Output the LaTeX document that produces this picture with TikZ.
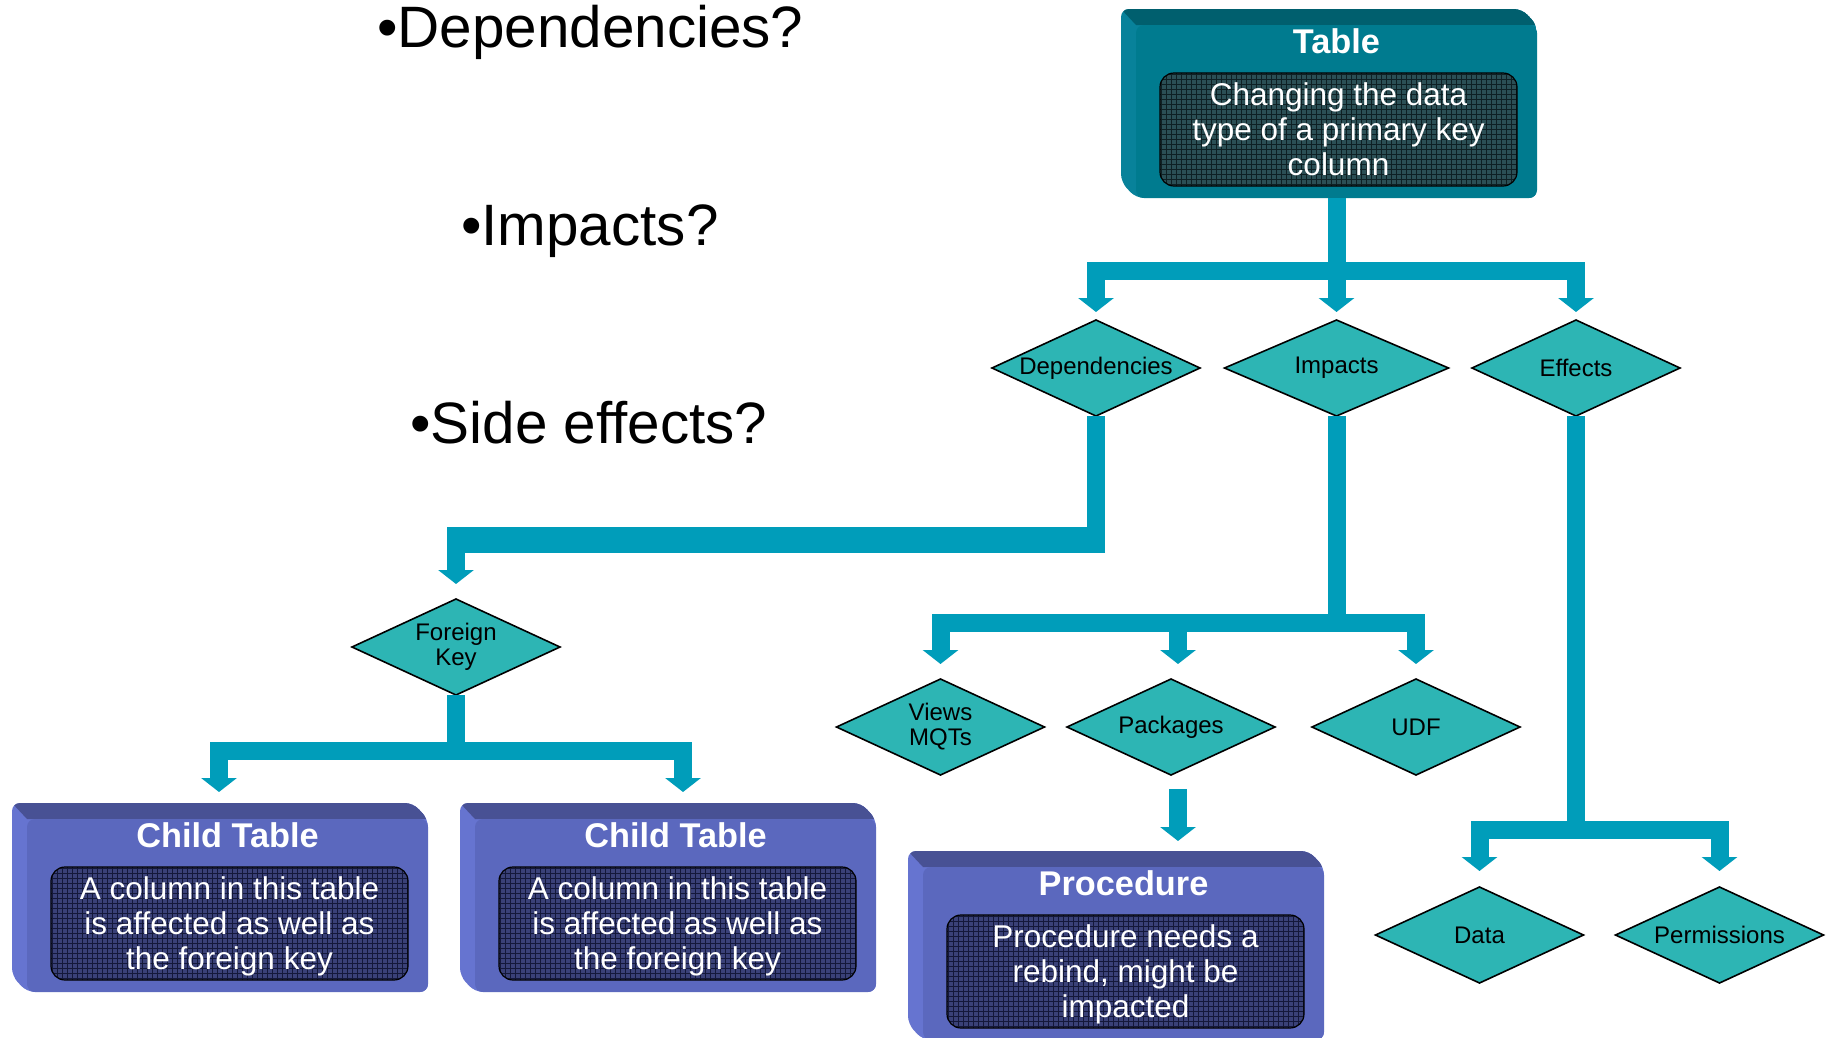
\documentclass[tikz,border=0pt]{standalone}
\usepackage{fontspec}
\setmainfont{Liberation Sans}
\usetikzlibrary{shapes.geometric,arrows.meta,calc}

\definecolor{connc}{HTML}{009DBA}
\definecolor{diac}{HTML}{2DB5B4}
\definecolor{tlfront}{HTML}{007B8F}
\definecolor{tltop}{HTML}{005F6E}
\definecolor{tlleft}{HTML}{08829A}
\definecolor{tlbase}{HTML}{2B4F55}
\definecolor{tlline}{HTML}{0E2024}
\definecolor{pufront}{HTML}{5B68BE}
\definecolor{putop}{HTML}{485194}
\definecolor{puleft}{HTML}{6674D0}
\definecolor{pubase}{HTML}{3A4178}
\definecolor{puline}{HTML}{14183A}

\tikzset{
  conn/.style={draw=connc, line width=18pt, line join=miter, -{Triangle[width=35pt,length=14pt]}},
  barthick/.style={draw=connc, line width=26pt},
  dia/.style={shape=diamond, draw=black, line width=1.6pt, fill=diac, inner sep=0pt, outer sep=0pt,
    minimum width=208pt, minimum height=96pt, aspect=2.17, align=center, text=black,
    font=\fontsize{24}{25}\selectfont},
  frontbox/.style={rectangle, rounded corners=8pt, minimum width=401pt, minimum height=173pt, inner sep=0pt, outer sep=0pt},
  ttl/.style={anchor=base, inner sep=0pt, text=white, font=\bfseries\fontsize{34.3}{40}\selectfont},
  body/.style={inner sep=0pt, text=white, align=center, font=\fontsize{31.5}{35}\selectfont},
  qtext/.style={anchor=base west, inner sep=0pt, text=black, font=\fontsize{58.4}{70}\selectfont},
}

\newcommand\tdbox[6]{%
\begin{scope}[shift={(#2,#3)}]
  \begin{scope}
    \clip[rounded corners=8pt] (0,0) -- (401,0) -- (416,16) -- (416,189) -- (15,189) -- (0,173) -- cycle;
    \fill[#4left] (0,0) rectangle (416,189);
    \fill[#4top] (0,0) -- (401,0) -- (416,16) -- (15,16) -- cycle;
  \end{scope}
  \node[frontbox, fill=#4front] (#1) at (215.5,102.5) {};
  \fill[#4base, rounded corners=14pt] (39,64) rectangle (396,177);
  \begin{scope}
    \clip[rounded corners=14pt] (39,64) rectangle (396,177);
    \draw[#4line, line width=0.9pt, step=5pt] (39,177) grid (396,64);
  \end{scope}
  \draw[black, line width=1.2pt, rounded corners=14pt] (39,64) rectangle (396,177);
  \node[ttl] (#1t) at (215.5,44) {#5};
  \node[body] (#1b) at (217.5,123.5) {#6};
\end{scope}}

\begin{document}
\begin{tikzpicture}[x=1pt, y=-1pt]
\useasboundingbox (0,0) rectangle (1826,1037);
\fill[white] (0,0) rectangle (1826,1037);

% questions
\node[qtext] (q1) at (377,47) {•Dependencies?};
\node[qtext] (q2) at (461,245) {•Impacts?};
\node[qtext] (q3) at (410,443) {•Side effects?};

% boxes
\tdbox{tbl}{1121}{9}{tl}{Table}{Changing the data\\type of a primary key\\column\vphantom{p}}
\tdbox{ct1}{12}{803}{pu}{Child Table}{A column in this table\\is affected as well as\\the foreign key}
\tdbox{ct2}{460}{803}{pu}{Child Table}{A column in this table\\is affected as well as\\the foreign key}
\tdbox{proc}{908}{851}{pu}{Procedure}{Procedure needs a\\rebind, might be\\impacted}

% diamonds
\node[dia] (dep) at (1096,368) {Dependencies};
\node[dia, minimum width=224pt] (imp) at (1336.5,368) {Impacts};
\node[dia] (eff) at (1576,368) {Effects};
\node[dia] (fk) at (456,647) {Foreign\\Key};
\node[dia] (views) at (940.5,727) {Views\\MQTs};
\node[dia] (pkg) at (1171,727) {Packages};
\node[dia] (udf) at (1416,727) {UDF};
\node[dia] (data) at (1479.5,935) {Data};
\node[dia] (perm) at (1719.5,935) {Permissions};

% connectors: Table
\draw[conn, shorten >=8pt] (tbl.south) -- ++(0,73) -| (dep.north);
\draw[conn, shorten >=8pt] (tbl.south) -- (imp.north);
\draw[conn, shorten >=8pt] (tbl.south) -- ++(0,73) -| (eff.north);

% Dependencies -> Foreign Key
\path (dep.south) ++(0,124) coordinate (dfk);
\draw[conn, shorten >=15pt] (dep.south) -- (dfk) -| (fk.north);
\draw[barthick] ($(dfk)+(9,0)$) -- ($(dfk -| fk.north)+(-9,0)$);

% Foreign Key -> Child Tables
\draw[conn, shorten >=11pt] (fk.south) -- ++(0,56) -| ($(ct1.north)+(-8.5,-16)$);
\draw[conn, shorten >=11pt] (fk.south) -- ++(0,56) -| ($(ct2.north)+(7.5,-16)$);

% Impacts -> second row
\draw[conn, shorten >=15pt] (imp.south) -- ++(0,207) -| (views.north);
\draw[conn, shorten >=15pt] (imp.south) -- ++(0,207) -| ($(pkg.north)+(7,0)$);
\draw[conn, shorten >=15pt] (imp.south) -- ++(0,207) -| (udf.north);

% Packages -> Procedure
\coordinate (pp) at ($(pkg.south)+(7,14)$);
\draw[conn, shorten >=26pt] (pp) -- (pp |- proc.north);

% Effects -> Data / Permissions
\draw[conn, shorten >=16pt] (eff.south) -- ++(0,414) -| (data.north);
\draw[conn, shorten >=16pt] (eff.south) -- ++(0,414) -| (perm.north);
\end{tikzpicture}
\end{document}
